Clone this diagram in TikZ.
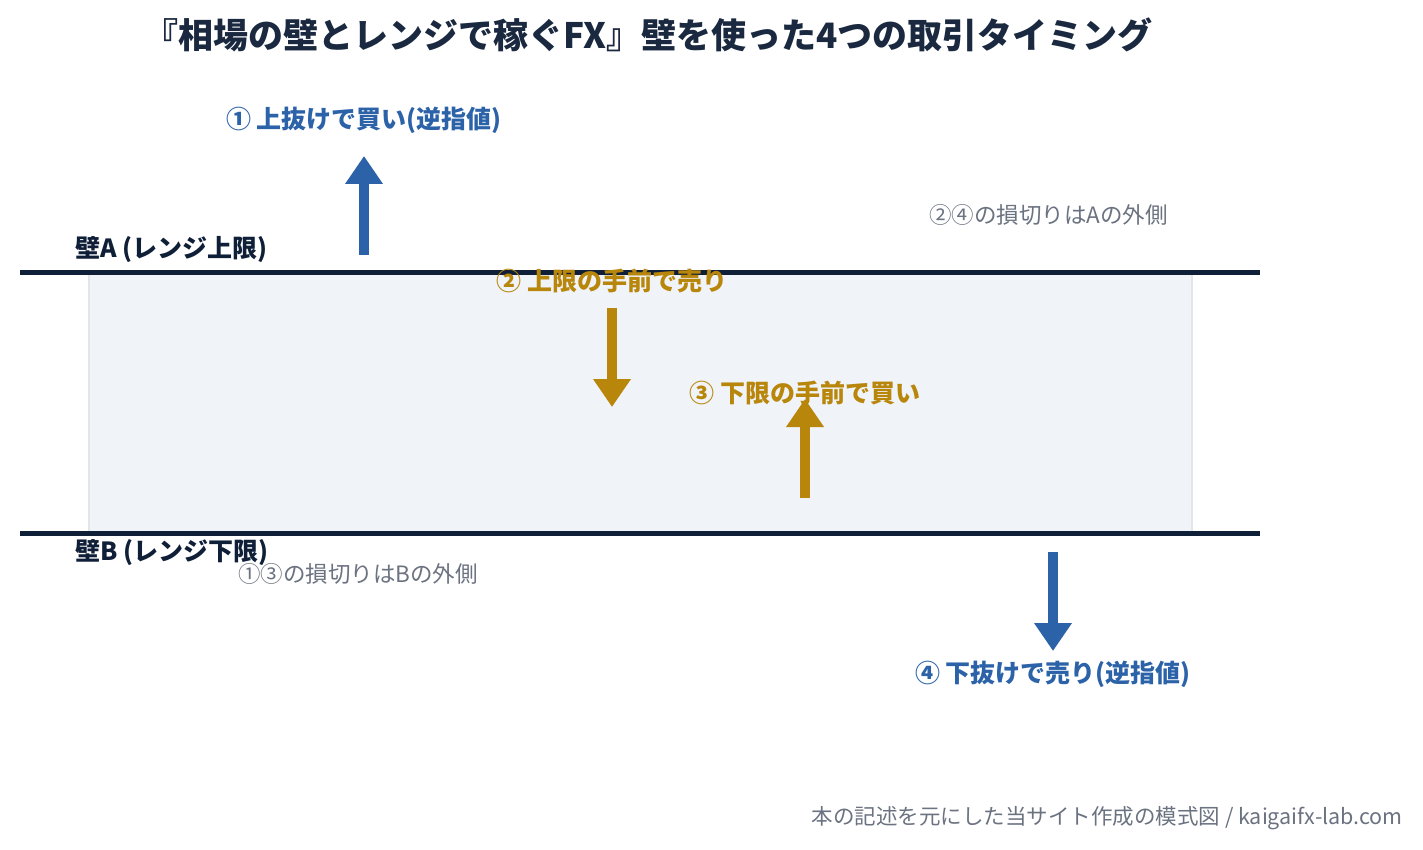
\documentclass[tikz,border=0pt]{standalone}
\usepackage{fontspec}
\setmainfont{Noto Sans CJK JP}
\usetikzlibrary{arrows.meta}
\definecolor{navy}{HTML}{0F1F38}
\definecolor{blu}{HTML}{2B62A8}
\definecolor{gld}{HTML}{B8860B}
\definecolor{gry}{HTML}{6B7280}
\definecolor{bandf}{HTML}{F0F3F8}
\definecolor{bandd}{HTML}{E2E5EA}
\begin{document}
\begin{tikzpicture}[x=1pt,y=-1pt,
 lbl/.style={font=\fontsize{25}{28}\selectfont\bfseries,inner sep=0},
 note/.style={font=\fontsize{22.5}{25}\selectfont,text=gry,inner sep=0,anchor=west},
 wall/.style={line width=5pt,draw=navy},
 arr/.style={line width=10pt,-{Triangle[width=36pt,length=28pt]}}]
\useasboundingbox (0,0) rectangle (1423,850);
\fill[fill=bandf,draw=bandd,line width=2pt] (89,272) rectangle (1192,533);
\draw[wall] (20,272) -- (1260,272);
\draw[wall] (20,533) -- (1260,533);
\node[font=\fontsize{35}{38}\selectfont\bfseries,text=navy!90!gray,inner sep=0] (title) at (648,35) {『相場の壁とレンジで稼ぐFX』壁を使った4つの取引タイミング};
\node[lbl,text=blu] (l1) at (364,120) {① 上抜けで買い(逆指値)};
\node[lbl,text=gld] (l2) at (612,281) {② 上限の手前で売り};
\node[lbl,text=gld] (l3) at (805,393) {③ 下限の手前で買い};
\node[lbl,text=blu] (l4) at (1053,674) {④ 下抜けで売り(逆指値)};
\node[lbl,text=navy,anchor=west] (wa) at (75,250) {壁A (レンジ上限)};
\node[lbl,text=navy,anchor=west] (wb) at (75,553) {壁B (レンジ下限)};
\node[note] (na) at (929,215) {②④の損切りはAの外側};
\node[note] (nb) at (238,574) {①③の損切りはBの外側};
\node[font=\fontsize{21.5}{24}\selectfont,text=gry,inner sep=0,anchor=east] (ft) at (1403,818) {本の記述を元にした当サイト作成の模式図 / kaigaifx-lab.com};
\coordinate (a1s) at (364,255); \coordinate (a1e) at (364,156);
\coordinate (a2s) at (612,308); \coordinate (a2e) at (612,407);
\coordinate (a3s) at (805,498); \coordinate (a3e) at (805,399);
\coordinate (a4s) at (1053,552); \coordinate (a4e) at (1053,651);
\draw[arr,blu] (a1s) -- (a1e);
\draw[arr,gld] (a2s) -- (a2e);
\draw[arr,gld] (a3s) -- (a3e);
\draw[arr,blu] (a4s) -- (a4e);
\end{tikzpicture}
\end{document}
